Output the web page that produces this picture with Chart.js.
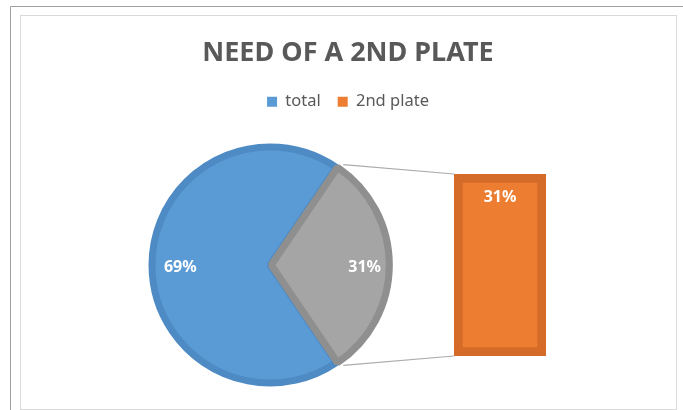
<!DOCTYPE html>
<html>
<head>
<meta charset="utf-8">
<script src="https://cdn.jsdelivr.net/npm/chart.js@4.4.1/dist/chart.umd.min.js"></script>
<style>
  html, body { margin: 0; padding: 0; background: #fff; }
  #wrap { position: relative; width: 683px; height: 410px; overflow: hidden; }
  #pieCanvas { position: absolute; left: 0; top: 0; }
  #barBox { position: absolute; left: 440px; top: 150px; width: 120px; height: 230px; }
</style>
</head>
<body>
<div id="wrap">
  <canvas id="pieCanvas" width="683" height="410"></canvas>
  <div id="barBox"><canvas id="barCanvas" width="120" height="230"></canvas></div>
</div>
<script>
// ---- data ----
const titleText = 'NEED OF A 2ND PLATE';
const categories = ['total', '2nd plate'];
const shares = [69, 31];
const secondaryCategories = ['2nd plate'];
const secondaryValues = [31];
const percentLabels = ['69%', '31%'];
const barLabels = ['31%'];

// ---- styles ----
const BLUE = '#5B9BD5', BLUE_B = '#4E8BC5';
const GREY = '#A5A5A5', GREY_B = '#8F8F8F';
const ORANGE = '#ED7D31', ORANGE_B = '#D46B29';
const TEXT = '#595959';
const FONT = "'Noto Sans', 'Open Sans', sans-serif";

const otherTotal = secondaryValues.reduce((a, b) => a + b, 0);

// ---- secondary bar chart ----
const barChart = new Chart(document.getElementById('barCanvas'), {
  type: 'bar',
  data: {
    labels: secondaryCategories,
    datasets: [{
      data: secondaryValues,
      backgroundColor: ORANGE,
      borderColor: ORANGE_B,
      borderWidth: 9,
      borderSkipped: false,
      barPercentage: 1,
      categoryPercentage: 1
    }]
  },
  options: {
    responsive: false,
    animation: false,
    events: [],
    layout: { padding: { left: 14, right: 14, top: 24, bottom: 24 } },
    scales: {
      x: { display: false },
      y: { display: false, min: 0, max: otherTotal, stacked: true }
    },
    plugins: { legend: { display: false }, tooltip: { enabled: false }, title: { display: false } }
  },
  plugins: [{
    id: 'barLabels',
    afterDatasetsDraw(chart) {
      const ctx = chart.ctx;
      const meta = chart.getDatasetMeta(0);
      ctx.save();
      ctx.fillStyle = '#FFFFFF';
      ctx.font = "bold 16px " + FONT;
      ctx.textAlign = 'center';
      ctx.textBaseline = 'middle';
      meta.data.forEach((bar, i) => {
        ctx.fillText(barLabels[i], bar.x, bar.y + 23);
      });
      ctx.restore();
    }
  }]
});

// ---- main pie chart ----
const PIE_CX = 270, PIE_CY = 265, PIE_R = 118;

const framePlugin = {
  id: 'frame',
  beforeDraw(chart) {
    const ctx = chart.ctx;
    ctx.save();
    ctx.fillStyle = '#FFFFFF';
    ctx.fillRect(0, 0, chart.width, chart.height);
    ctx.strokeStyle = '#A0A0A0';
    ctx.lineWidth = 1;
    ctx.beginPath();
    ctx.moveTo(10.5, 410);
    ctx.lineTo(10.5, 6.5);
    ctx.lineTo(683, 6.5);
    ctx.stroke();
    ctx.strokeStyle = '#D9D9D9';
    ctx.strokeRect(20.5, 15.5, 656, 394);
    ctx.restore();
  }
};

const placePie = {
  id: 'placePie',
  afterLayout(chart) {
    const half = PIE_R + 4;
    const a = chart.chartArea;
    a.left = PIE_CX - half; a.right = PIE_CX + half;
    a.top = PIE_CY - half; a.bottom = PIE_CY + half;
    a.width = a.right - a.left; a.height = a.bottom - a.top;
  }
};

const pieExtras = {
  id: 'pieExtras',
  afterDatasetsDraw(chart) {
    const ctx = chart.ctx;
    const meta = chart.getDatasetMeta(0);
    ctx.save();
    // connector lines from the split slice to the secondary bar
    const other = meta.data[1];
    const off = other.options.offset || 0;
    const mid = (other.startAngle + other.endAngle) / 2;
    const ox = other.x + Math.cos(mid) * off;
    const oy = other.y + Math.sin(mid) * off;
    const r = other.outerRadius + other.options.borderWidth / 2;
    const p1 = { x: ox + Math.cos(other.startAngle) * r, y: oy + Math.sin(other.startAngle) * r };
    const p2 = { x: ox + Math.cos(other.endAngle) * r, y: oy + Math.sin(other.endAngle) * r };
    const bar = barChart.getDatasetMeta(0).data[0];
    const bx = 440 + bar.x - bar.width / 2;
    const top = 150 + bar.y, bottom = 150 + bar.base;
    const pts = [p1, p2].sort((a, b) => a.y - b.y);
    ctx.strokeStyle = '#ABABAB';
    ctx.lineWidth = 1.25;
    ctx.beginPath();
    ctx.moveTo(pts[0].x, pts[0].y); ctx.lineTo(bx, top);
    ctx.moveTo(pts[1].x, pts[1].y); ctx.lineTo(bx, bottom);
    ctx.stroke();
    // percentage labels
    ctx.fillStyle = '#FFFFFF';
    ctx.font = "bold 16px " + FONT;
    ctx.textAlign = 'center';
    ctx.textBaseline = 'middle';
    meta.data.forEach((arc, i) => {
      const m = (arc.startAngle + arc.endAngle) / 2;
      const o = arc.options.offset || 0;
      const rr = arc.outerRadius * 0.76 + o;
      ctx.fillText(percentLabels[i], arc.x + Math.cos(m) * rr, arc.y + Math.sin(m) * rr + 2);
    });
    ctx.restore();
  }
};

// rotation so that the split slice is centred on the right-hand side
const otherDeg = otherTotal / (shares[0] + otherTotal) * 360;
const rotation = 90 - (360 - otherDeg) - otherDeg / 2;

new Chart(document.getElementById('pieCanvas'), {
  type: 'pie',
  data: {
    labels: [categories[0], 'Other'],
    datasets: [{
      data: [shares[0], otherTotal],
      backgroundColor: [BLUE, GREY],
      borderColor: [BLUE_B, GREY_B],
      borderWidth: 7,
      offset: [0, 5],
      radius: PIE_R
    }]
  },
  options: {
    responsive: false,
    animation: false,
    events: [],
    rotation: rotation,
    layout: { padding: { left: 13, right: 0, top: 0, bottom: 0 } },
    plugins: {
      tooltip: { enabled: false },
      title: {
        display: true,
        text: titleText,
        color: TEXT,
        font: { family: FONT, size: 27, weight: 'bold', lineHeight: 1.2 },
        padding: { top: 37, bottom: 7 }
      },
      legend: {
        display: true,
        position: 'top',
        onClick: null,
        labels: {
          color: TEXT,
          font: { family: FONT, size: 16.5 },
          boxWidth: 10,
          boxHeight: 10,
          padding: 17,
          generateLabels() {
            const cols = [BLUE, ORANGE];
            return categories.map((c, i) => ({
              text: c, fillStyle: cols[i], strokeStyle: cols[i], lineWidth: 0,
              hidden: false, index: i, fontColor: TEXT
            }));
          }
        }
      }
    }
  },
  plugins: [framePlugin, placePie, pieExtras]
});
</script>
</body>
</html>
